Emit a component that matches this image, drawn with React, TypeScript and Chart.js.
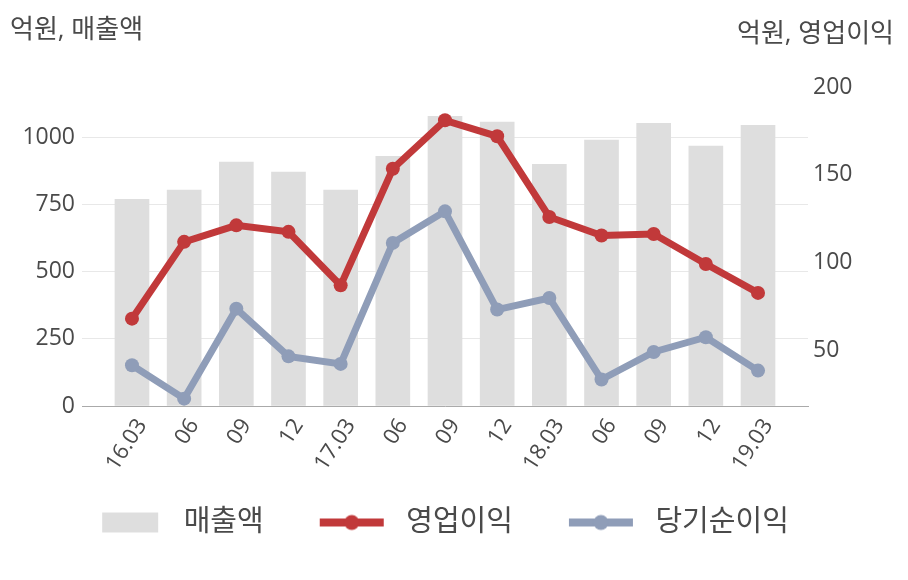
import React, { useEffect, useRef } from 'react';
import { Chart, registerables } from 'chart.js';

Chart.register(...registerables);

const categories = ['16.03', '06', '09', '12', '17.03', '06', '09', '12', '18.03', '06', '09', '12', '19.03'];
const revenue = [770, 804, 908, 871, 804, 930, 1079, 1057, 900, 990, 1053, 968, 1045];
const operatingProfit = [67.9, 111.7, 121.1, 117.4, 86.9, 153.4, 181.0, 171.9, 125.9, 115.3, 116.2, 99.1, 82.6];
const netProfit = [41.3, 22.3, 73.6, 46.4, 42.1, 111.1, 129.1, 73.1, 79.7, 33.2, 48.9, 57.3, 38.3];
const leftTicks = [0, 250, 500, 750, 1000];
const rightTicks = [50, 100, 150, 200];
const seriesNames = ['매출액', '영업이익', '당기순이익'];
const leftUnit = '억원, 매출액';
const rightUnit = '억원, 영업이익';

const FONT = '"Open Sans", "Noto Sans CJK KR", sans-serif';
const TEXT = '#4a4a4a';
const BAR = '#dedede';
const RED = '#c1393a';
const BLUE = '#8f9db8';

function makeSwatch(kind: string, color: string) {
  const c = document.createElement('canvas');
  c.width = 98;
  c.height = 22;
  const g = c.getContext('2d')!;
  if (kind === 'bar') {
    g.fillStyle = color;
    g.fillRect(31, 1, 56, 20);
  } else {
    g.strokeStyle = color;
    g.lineWidth = 8;
    g.beginPath();
    g.moveTo(26, 11);
    g.lineTo(90, 11);
    g.stroke();
    g.fillStyle = color;
    g.beginPath();
    g.arc(58, 11, 7.5, 0, Math.PI * 2);
    g.fill();
  }
  return c;
}

const unitTitles = {
  id: 'unitTitles',
  afterDraw(chart: any) {
    const { ctx, width } = chart;
    ctx.save();
    ctx.font = `26px ${FONT}`;
    ctx.fillStyle = TEXT;
    ctx.textBaseline = 'middle';
    ctx.textAlign = 'left';
    ctx.fillText(leftUnit, 10, 31);
    ctx.textAlign = 'right';
    ctx.fillText(rightUnit, width - 14, 35);
    ctx.restore();
  },
};

export default function App() {
  const ref = useRef<HTMLCanvasElement | null>(null);

  useEffect(() => {
    if (!ref.current) return;
    const swatches = [makeSwatch('bar', BAR), makeSwatch('line', RED), makeSwatch('line', BLUE)];
    const toXY = (arr: number[]) => arr.map((v, i) => ({ x: i, y: v }));
    const chart = new Chart(ref.current, {
      type: 'bar',
      data: {
        datasets: [
          {
            type: 'bar',
            label: seriesNames[0],
            data: toXY(revenue),
            backgroundColor: BAR,
            borderWidth: 0,
            barThickness: 34,
            yAxisID: 'y',
            order: 2,
          },
          {
            type: 'line',
            label: seriesNames[1],
            data: toXY(operatingProfit),
            borderColor: RED,
            backgroundColor: RED,
            borderWidth: 7,
            pointRadius: 7,
            pointBorderWidth: 0,
            pointBackgroundColor: RED,
            tension: 0,
            yAxisID: 'y1',
            order: 0,
          },
          {
            type: 'line',
            label: seriesNames[2],
            data: toXY(netProfit),
            borderColor: BLUE,
            backgroundColor: BLUE,
            borderWidth: 7,
            pointRadius: 7,
            pointBorderWidth: 0,
            pointBackgroundColor: BLUE,
            tension: 0,
            yAxisID: 'y1',
            order: 1,
          },
        ] as any,
      },
      options: {
        animation: false,
        responsive: false,
        layout: { padding: { left: -20, right: 28, top: 87, bottom: 33 } },
        plugins: {
          tooltip: { enabled: false },
          legend: {
            position: 'bottom',
            labels: {
              usePointStyle: true,
              pointStyleWidth: 98,
              padding: 30,
              color: TEXT,
              font: { family: FONT, size: 29 },
              sort: (a: any, b: any) => a.datasetIndex - b.datasetIndex,
              generateLabels: (ch: any) => {
                const items = Chart.defaults.plugins.legend.labels.generateLabels(ch);
                return items.map((it: any) => ({ ...it, pointStyle: swatches[it.datasetIndex] }));
              },
            },
          },
        },
        scales: {
          x: {
            type: 'linear',
            offset: false,
            min: -0.958,
            max: 12.958,
            grid: { display: false, drawTicks: false },
            border: { display: true, color: '#aaaaaa', width: 1 },
            afterBuildTicks: (s: any) => {
              s.ticks = categories.map((_, i) => ({ value: i }));
            },
            afterFit: (s: any) => {
              s.height = 72;
            },
            ticks: {
              autoSkip: false,
              minRotation: 57,
              maxRotation: 57,
              padding: 8,
              labelOffset: 10,
              color: TEXT,
              font: { family: FONT, size: 22 },
              callback: (v: any) => categories[v as number] ?? '',
            },
          },
          y: {
            type: 'linear',
            position: 'left',
            min: 0,
            max: 1188,
            grid: { color: '#e8e8e8', drawTicks: false },
            border: { display: false },
            afterBuildTicks: (s: any) => {
              s.ticks = leftTicks.map((v) => ({ value: v }));
            },
            afterFit: (s: any) => {
              s.width = 102;
            },
            ticks: {
              padding: 7,
              color: TEXT,
              font: { family: FONT, size: 23 },
              callback: (v: any) => String(v),
            },
          },
          y1: {
            type: 'linear',
            position: 'right',
            min: 18.1,
            max: 200,
            grid: { display: false, drawTicks: false },
            border: { display: false },
            afterBuildTicks: (s: any) => {
              s.ticks = rightTicks.map((v) => ({ value: v }));
            },
            afterFit: (s: any) => {
              s.width = 72;
            },
            ticks: {
              padding: 5,
              color: TEXT,
              font: { family: FONT, size: 23 },
              callback: (v: any) => String(v),
            },
          },
        },
      } as any,
      plugins: [unitTitles],
    });
    return () => chart.destroy();
  }, []);

  return (
    <div style={{ position: 'fixed', left: 0, top: 0, width: 908, height: 580, background: '#fff' }}>
      <canvas ref={ref} width={908} height={580} style={{ display: 'block' }} />
    </div>
  );
}
